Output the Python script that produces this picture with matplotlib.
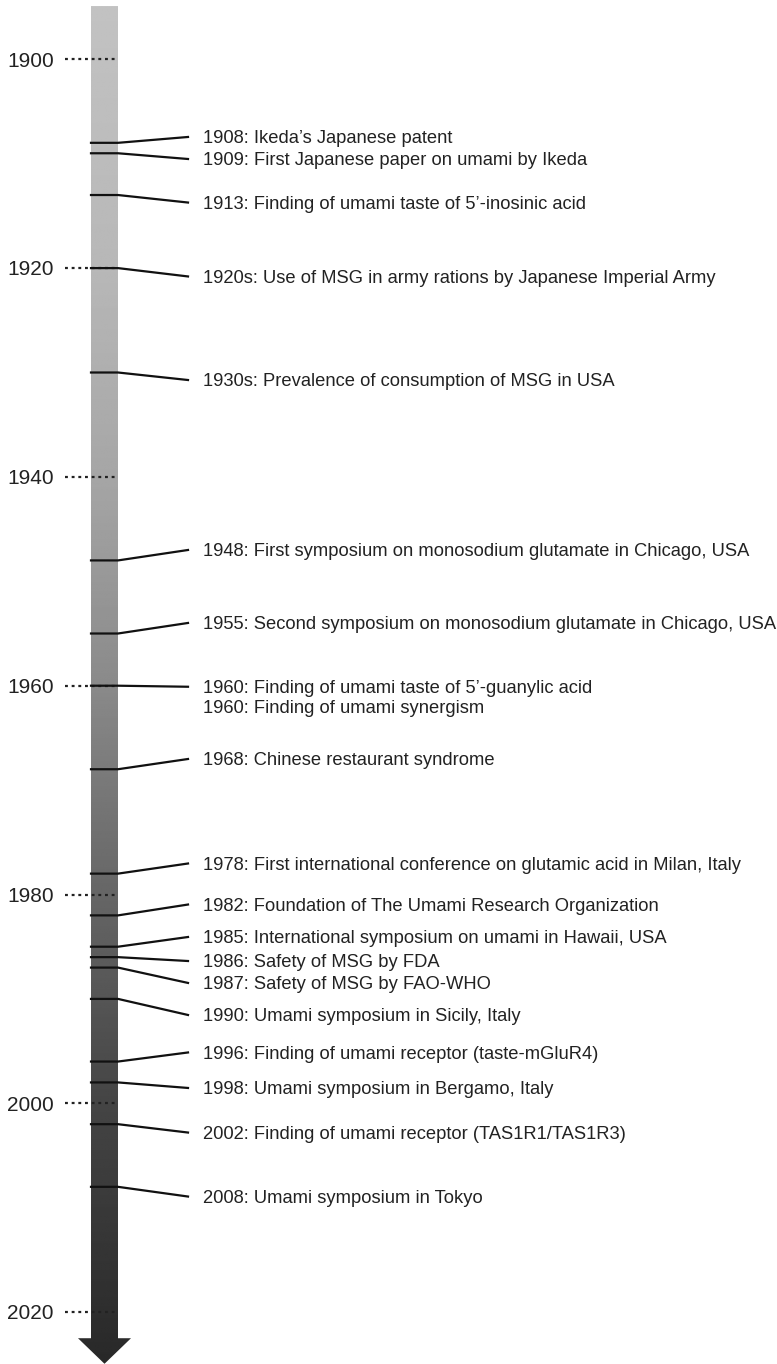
import numpy as np
import matplotlib
matplotlib.use("Agg")
import matplotlib.pyplot as plt
from matplotlib.patches import Polygon

plt.rcParams['font.family'] = ['Liberation Sans', 'DejaVu Sans']

# axis years shown with dotted ticks
axis_years = [1900, 1920, 1940, 1960, 1980, 2000, 2020]

# events: year of the mark on the arrow (None = text only) and label text
event_years = [1908, 1909, 1913, 1920, 1930, 1948, 1955, 1960, None, 1968,
               1978, 1982, 1985, 1986, 1987, 1990, 1996, 1998, 2002, 2008]
event_labels = [
    "1908: Ikeda\u2019s Japanese patent",
    "1909: First Japanese paper on umami by Ikeda",
    "1913: Finding of umami taste of 5\u2019-inosinic acid",
    "1920s: Use of MSG in army rations by Japanese Imperial Army",
    "1930s: Prevalence of consumption of MSG in USA",
    "1948: First symposium on monosodium glutamate in Chicago, USA",
    "1955: Second symposium on monosodium glutamate in Chicago, USA",
    "1960: Finding of umami taste of 5\u2019-guanylic acid",
    "1960: Finding of umami synergism",
    "1968: Chinese restaurant syndrome",
    "1978: First international conference on glutamic acid in Milan, Italy",
    "1982: Foundation of The Umami Research Organization",
    "1985: International symposium on umami in Hawaii, USA",
    "1986: Safety of MSG by FDA",
    "1987: Safety of MSG by FAO-WHO",
    "1990: Umami symposium in Sicily, Italy",
    "1996: Finding of umami receptor (taste-mGluR4)",
    "1998: Umami symposium in Bergamo, Italy",
    "2002: Finding of umami receptor (TAS1R1/TAS1R3)",
    "2008: Umami symposium in Tokyo",
]
# where each label sits on the year scale (spread out so they don't overlap)
label_pos = [1907.44, 1909.55, 1913.72, 1920.80, 1930.72, 1947.00, 1953.99,
             1960.10, 1962.03, 1967.02, 1977.03, 1980.96, 1984.07, 1986.37,
             1988.47, 1991.54, 1995.13, 1998.53, 2002.80, 2008.93]

fig = plt.figure(figsize=(7.77, 13.64), dpi=100)
ax = fig.add_axes([0, 0, 1, 1])
ax.set_xlim(0, 777)
ax.set_ylim(2024.97, 1894.32)
ax.axis('off')

# arrow shape (x in pixels, y in years)
shaft_l, shaft_r = 91, 118
head_l, head_r = 78, 131
top, head_y, tip = 1894.9, 2022.5, 2024.95
arrow = Polygon([(shaft_l, top), (shaft_r, top), (shaft_r, head_y), (head_r, head_y),
                 ((head_l + head_r) / 2, tip), (head_l, head_y), (shaft_l, head_y)],
                closed=True, facecolor='none', edgecolor='none')
ax.add_patch(arrow)

rows = np.linspace(top, tip, 600)
shade = np.interp(rows, [1895, 1920, 1940, 1960, 1980, 2000, 2025],
                  [0.76, 0.72, 0.65, 0.54, 0.40, 0.27, 0.16])
grad = np.repeat(shade[:, None], 40, axis=1)
img = ax.imshow(grad, cmap='gray', vmin=0, vmax=1, aspect='auto', origin='upper',
                extent=[head_l, head_r, tip, top], interpolation='bilinear', zorder=1)
img.set_clip_path(arrow)

# dotted year ticks and year labels
for yr in axis_years:
    ax.plot([65, shaft_r], [yr, yr], color='#222222', lw=1.6,
            linestyle=(0, (1.3, 1.7)), zorder=3)
    ax.text(54, yr + 0.70, str(yr), ha='right', va='baseline', fontsize=15, color='#222222')

# event markers, leader lines and labels
for yr, lab, ly in zip(event_years, event_labels, label_pos):
    if yr is not None:
        ax.plot([shaft_l, shaft_r, 188], [yr, yr, ly], color='#111111', lw=1.6,
                solid_joinstyle='miter', zorder=3)
    ax.text(203, ly + 0.62, lab, ha='left', va='baseline', fontsize=13.2, color='#222222')

fig.savefig('out.png', dpi=100)
